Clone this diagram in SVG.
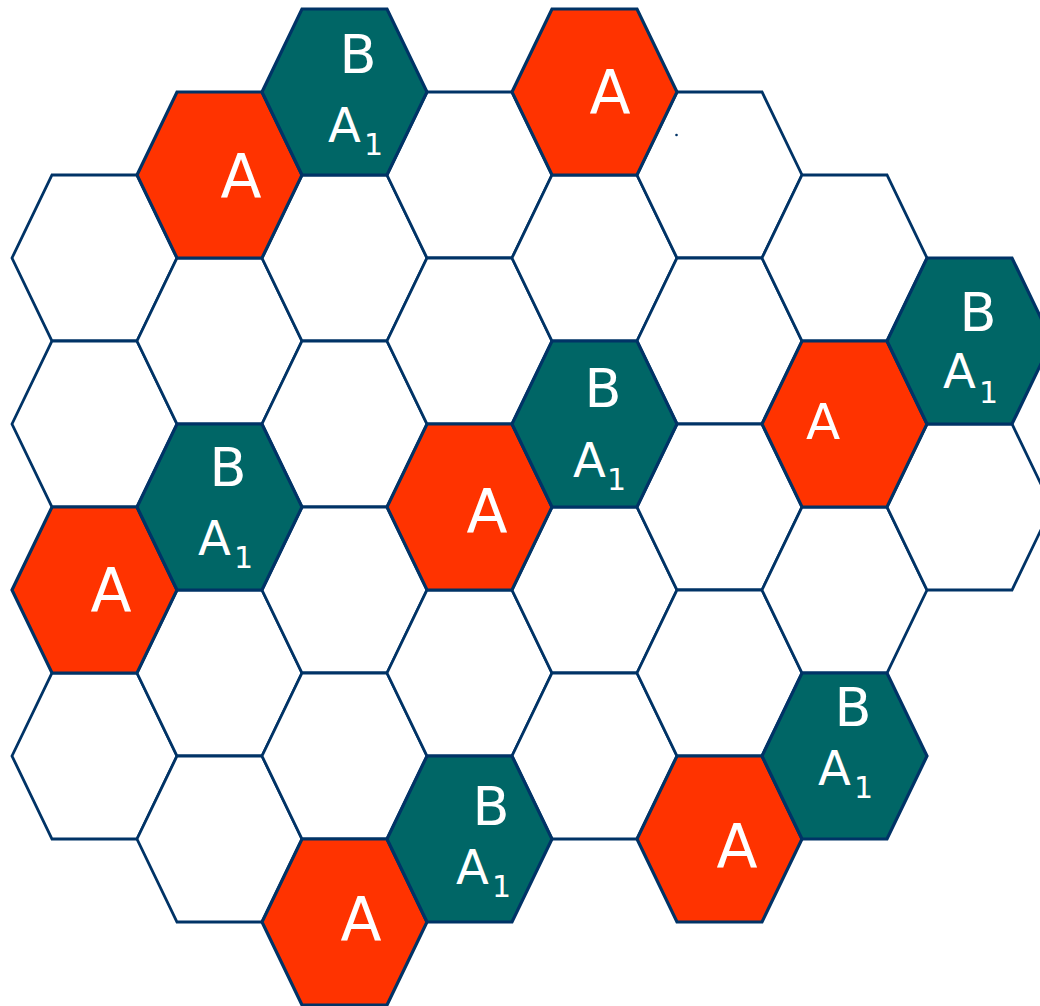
<svg xmlns="http://www.w3.org/2000/svg" xmlns:xlink="http://www.w3.org/1999/xlink" width="1040" height="1006" viewBox="0 0 1040 1006">
<style>
.w{fill:#FFFFFF;stroke:#003366;stroke-width:2.8;stroke-linejoin:miter}
.r{fill:#FF3300;stroke:#003366;stroke-width:3.2;stroke-linejoin:miter}
.t{fill:#006666;stroke:#003366;stroke-width:3.2;stroke-linejoin:miter}
text{fill:#FFFFFF;font-family:"DejaVu Sans","Liberation Sans",sans-serif}
.la{font-size:60px;text-anchor:middle}
.lb{font-size:54px;text-anchor:middle}
.l1{font-size:48px}
</style>
<defs>
<polygon id="hex" points="-82.5,0 -42.5,-83 42.5,-83 82.5,0 42.5,83 -42.5,83"/>
</defs>
<rect width="1040" height="1006" fill="#FFFFFF"/>
<g id="cells-empty">
<g id="c0r258"><use xlink:href="#hex" class="w" x="94.5" y="258"/></g>
<g id="c0r424"><use xlink:href="#hex" class="w" x="94.5" y="424"/></g>
<g id="c0r756"><use xlink:href="#hex" class="w" x="94.5" y="756"/></g>
<g id="c1r341"><use xlink:href="#hex" class="w" x="219.5" y="341"/></g>
<g id="c1r673"><use xlink:href="#hex" class="w" x="219.5" y="673"/></g>
<g id="c1r839"><use xlink:href="#hex" class="w" x="219.5" y="839"/></g>
<g id="c2r258"><use xlink:href="#hex" class="w" x="344.5" y="258"/></g>
<g id="c2r424"><use xlink:href="#hex" class="w" x="344.5" y="424"/></g>
<g id="c2r590"><use xlink:href="#hex" class="w" x="344.5" y="590"/></g>
<g id="c2r756"><use xlink:href="#hex" class="w" x="344.5" y="756"/></g>
<g id="c3r175"><use xlink:href="#hex" class="w" x="469.5" y="175"/></g>
<g id="c3r341"><use xlink:href="#hex" class="w" x="469.5" y="341"/></g>
<g id="c3r673"><use xlink:href="#hex" class="w" x="469.5" y="673"/></g>
<g id="c4r258"><use xlink:href="#hex" class="w" x="594.5" y="258"/></g>
<g id="c4r590"><use xlink:href="#hex" class="w" x="594.5" y="590"/></g>
<g id="c4r756"><use xlink:href="#hex" class="w" x="594.5" y="756"/></g>
<g id="c5r175"><use xlink:href="#hex" class="w" x="719.5" y="175"/></g>
<g id="c5r341"><use xlink:href="#hex" class="w" x="719.5" y="341"/></g>
<g id="c5r507"><use xlink:href="#hex" class="w" x="719.5" y="507"/></g>
<g id="c5r673"><use xlink:href="#hex" class="w" x="719.5" y="673"/></g>
<g id="c6r258"><use xlink:href="#hex" class="w" x="844.5" y="258"/></g>
<g id="c6r590"><use xlink:href="#hex" class="w" x="844.5" y="590"/></g>
<g id="c7r507"><use xlink:href="#hex" class="w" x="969.5" y="507"/></g>
</g>
<g id="cells-A">
<g id="A1"><use xlink:href="#hex" class="r" x="219.5" y="175"/><text class="la" x="241" y="197">A</text></g>
<g id="A2"><use xlink:href="#hex" class="r" x="594.5" y="92"/><text class="la" x="610" y="113">A</text></g>
<g id="A3"><use xlink:href="#hex" class="r" x="94.5" y="590"/><text class="la" x="111" y="611">A</text></g>
<g id="A4"><use xlink:href="#hex" class="r" x="844.5" y="424"/><text class="la" x="823" y="439" style="font-size:50px">A</text></g>
<g id="A5"><use xlink:href="#hex" class="r" x="344.5" y="922"/><text class="la" x="361" y="940">A</text></g>
<g id="A6"><use xlink:href="#hex" class="r" x="719.5" y="839"/><text class="la" x="737" y="867">A</text></g>
<g id="A7"><use xlink:href="#hex" class="r" x="469.5" y="507"/><text class="la" x="487" y="532">A</text></g>
</g>
<g id="cells-B">
<g id="B1"><use xlink:href="#hex" class="t" x="344.5" y="92"/><text class="lb" x="358" y="73">B</text><text class="l1" x="328" y="142">A<tspan x="364" y="155" font-size="30">1</tspan></text></g>
<g id="B2"><use xlink:href="#hex" class="t" x="219.5" y="507"/><text class="lb" x="228" y="486">B</text><text class="l1" x="198" y="555">A<tspan x="234" y="568" font-size="30">1</tspan></text></g>
<g id="B3"><use xlink:href="#hex" class="t" x="969.5" y="341"/><text class="lb" x="978" y="331">B</text><text class="l1" x="943" y="388">A<tspan x="979" y="403" font-size="30">1</tspan></text></g>
<g id="B4"><use xlink:href="#hex" class="t" x="469.5" y="839"/><text class="lb" x="491" y="825">B</text><text class="l1" x="456" y="884">A<tspan x="492" y="897" font-size="30">1</tspan></text></g>
<g id="B5"><use xlink:href="#hex" class="t" x="844.5" y="756"/><text class="lb" x="853" y="726">B</text><text class="l1" x="818" y="785">A<tspan x="854" y="798" font-size="30">1</tspan></text></g>
<g id="B6"><use xlink:href="#hex" class="t" x="594.5" y="424"/><text class="lb" x="603" y="407">B</text><text class="l1" x="573" y="477">A<tspan x="607" y="490" font-size="30">1</tspan></text></g>
</g>
<g id="connectors"></g>
<circle cx="676.5" cy="135" r="1.3" fill="#003366"/>
</svg>
